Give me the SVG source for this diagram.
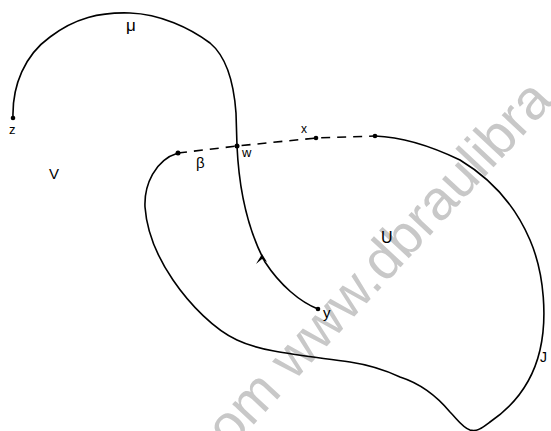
<svg xmlns="http://www.w3.org/2000/svg" width="551" height="431" viewBox="0 0 551 431">
<style>
.c{fill:none;stroke:#000;stroke-width:1.6;stroke-linecap:round;stroke-linejoin:round}
.d{fill:none;stroke:#000;stroke-width:1.6;stroke-dasharray:9 7}
.p{fill:#000}
.t{font-family:"Liberation Sans",Arial,sans-serif;fill:#000}
.wm{font-family:"Liberation Sans",Arial,sans-serif;fill:#c8c8c8;font-size:56px}
</style>
<rect width="551" height="431" fill="#fff"/>
<text class="wm" transform="translate(230,450) rotate(-47)">om www.dbraulibra</text>
<g id="connectors">
<path id="mu" class="c" d="M13,118 C12,85 25,55 50,37 C75,18 100,12 130,13 C160,14 190,28 210,43 C228,58 234,85 236,113 L237,146 C239,190 248,230 265,262 C280,285 300,302 318,309"/>
<path id="boundary" class="c" d="M375,136 C405,137 435,148 460,160 C490,178 515,205 530,240 C545,275 547,320 540,350 C533,380 515,405 490,422 C482,428 477,432 470,430 C462,427 458,420 450,412 C440,400 425,385 400,377 C385,370 370,365 350,362 C300,355 262,352 237,340 C215,330 190,305 173,280 C158,258 147,235 145,207 C144,185 155,160 178,153"/>
<path id="beta" class="d" d="M178,153 L237,146 L316,138 L375,136"/>
<path class="p" d="M256,264 L262,254 L267,262 L262,259 Z"/>
</g>
<g id="z"><circle class="p" cx="13" cy="118" r="2.3"/><text class="t" x="9" y="134" font-size="13">z</text></g>
<g id="w"><circle class="p" cx="237" cy="146" r="2.5"/><text class="t" x="242" y="157" font-size="13">w</text></g>
<g id="bpt"><circle class="p" cx="178" cy="153" r="2.5"/><text class="t" x="196" y="168" font-size="15">β</text></g>
<g id="x"><circle class="p" cx="316" cy="138" r="2.3"/><text class="t" x="301" y="133" font-size="12">x</text></g>
<g id="e"><circle class="p" cx="375" cy="136" r="2.3"/></g>
<g id="y"><circle class="p" cx="318" cy="309" r="2.3"/><text class="t" x="323" y="318" font-size="15">y</text></g>
<g id="labels">
<text class="t" x="126" y="31" font-size="17">μ</text>
<text class="t" x="49" y="179" font-size="15">V</text>
<text class="t" x="381" y="243" font-size="16">U</text>
<text class="t" x="540" y="362" font-size="14">J</text>
</g>
</svg>
